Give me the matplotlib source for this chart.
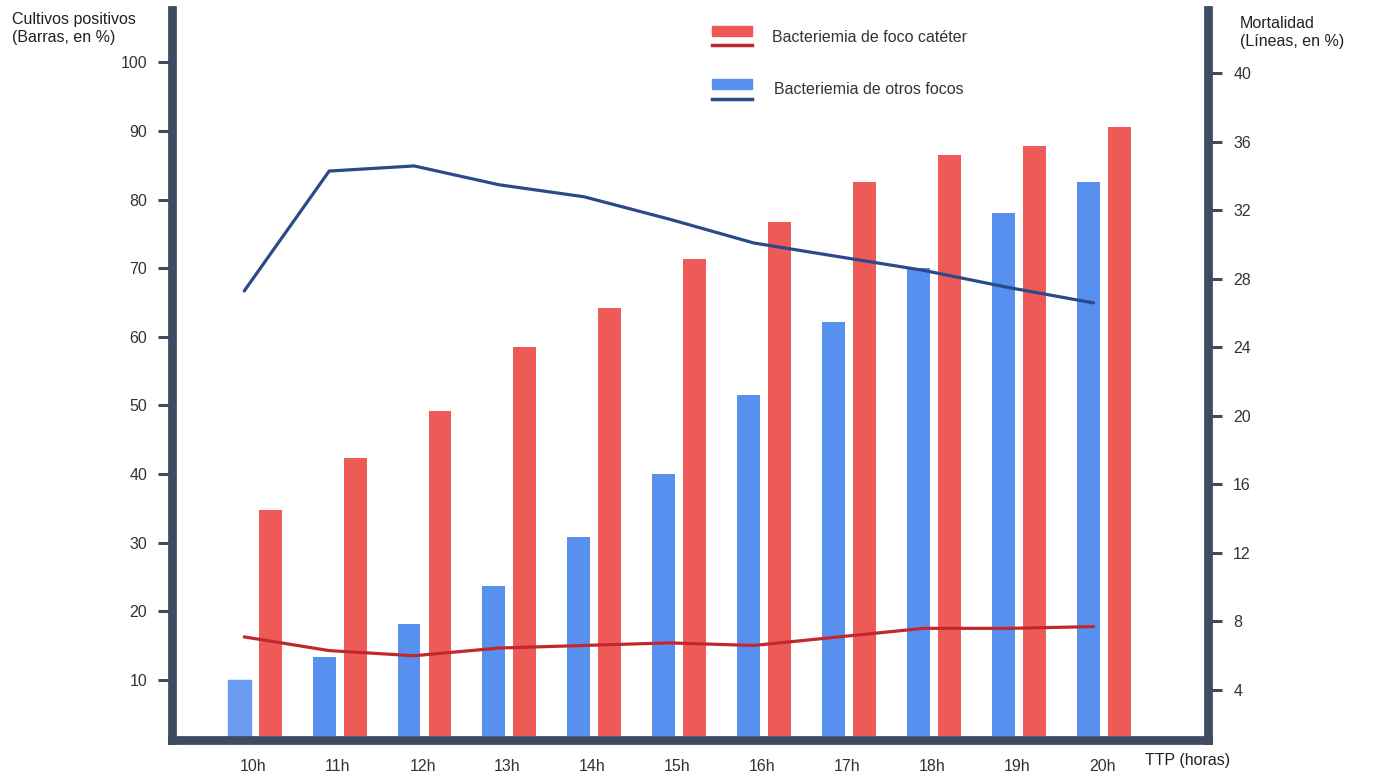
import numpy as np
from matplotlib import pyplot as plt
from matplotlib.patches import Rectangle
from matplotlib.lines import Line2D

# === Data ===
horas = ["10h", "11h", "12h", "13h", "14h", "15h", "16h", "17h", "18h", "19h", "20h"]
cultivos_cateter = [34.8, 42.4, 49.2, 58.5, 64.2, 71.3, 76.7, 82.5, 86.5, 87.8, 90.5]
cultivos_otros = [10.0, 13.4, 18.1, 23.7, 30.9, 40.0, 51.5, 62.2, 70.0, 78.0, 82.5]
mortalidad_cateter = [7.1, 6.3, 6.0, 6.45, 6.6, 6.75, 6.6, 7.1, 7.6, 7.6, 7.7]
mortalidad_otros = [27.3, 34.3, 34.6, 33.5, 32.8, 31.5, 30.1, 29.3, 28.5, 27.5, 26.6]
left_ticks = [10, 20, 30, 40, 50, 60, 70, 80, 90, 100]
right_ticks = [4, 8, 12, 16, 20, 24, 28, 32, 36, 40]

# === Style ===
red_bar = "#ee5b56"
blue_bar = "#5890f0"
red_line = "#c2272d"
blue_line = "#2c4a88"
spine_col = "#3e4b60"
txt = "#333333"
base = 1.9  # bars start a little above the bottom spine

plt.rcParams['font.family'] = ['Liberation Sans', 'DejaVu Sans']

fig = plt.figure(figsize=(13.73, 7.76), dpi=100)
ax = fig.add_axes([0.1253, 0.0464, 0.7547, 0.9406])
ax2 = ax.twinx()

x = np.arange(len(horas))
w = 0.27
bars_o = ax.bar(x - 0.16, [v - base for v in cultivos_otros], w, bottom=base,
                color=blue_bar, zorder=2)
bars_o[0].set_color("#6b9cf2")
ax.bar(x + 0.205, [v - base for v in cultivos_cateter], w, bottom=base,
       color=red_bar, zorder=2)

ax2.plot(x - 0.1, mortalidad_otros, color=blue_line, lw=2.3, solid_capstyle="round")
ax2.plot(x - 0.1, mortalidad_cateter, color=red_line, lw=2.3, solid_capstyle="round")

ax.set_xlim(-0.95, len(horas) - 1 + 1.25)
ax.set_ylim(1.27, 107.6)
ax2.set_ylim(1.08, 43.7)

ax.set_xticks(x)
ax.set_xticklabels(horas)
ax.set_yticks(left_ticks)
ax2.set_yticks(right_ticks)

for a in (ax, ax2):
    for s in a.spines.values():
        s.set_visible(False)
ax.spines["left"].set_visible(True)
ax.spines["bottom"].set_visible(True)
ax2.spines["right"].set_visible(True)
for s in (ax.spines["left"], ax.spines["bottom"], ax2.spines["right"]):
    s.set_color(spine_col)
    s.set_linewidth(6.3)
    s.set_capstyle("projecting")

ax.tick_params(axis="x", length=0, pad=14, labelsize=11.5, labelcolor=txt)
ax.tick_params(axis="y", length=10, width=2.2, color=spine_col, pad=8, labelsize=11.5, labelcolor=txt)
ax2.tick_params(axis="y", length=10, width=2.2, color=spine_col, pad=8, labelsize=11.5, labelcolor=txt)

fig.text(0.009, 0.985, "Cultivos positivos\n(Barras, en %)", ha="left", va="top",
         fontsize=11.5, color="#222222", linespacing=1.25)
fig.text(0.903, 0.98, "Mortalidad\n(Líneas, en %)", ha="left", va="top",
         fontsize=11.5, color="#222222", linespacing=1.25)
fig.text(0.834, 0.02, "TTP (horas)", ha="left", va="center", fontsize=11.5, color="#222222")

# legend
fig.add_artist(Rectangle((712 / 1373, 1 - 36 / 776), 40 / 1373, 10 / 776,
                         transform=fig.transFigure, color=red_bar))
fig.add_artist(Line2D([712 / 1373, 752 / 1373], [1 - 45 / 776] * 2,
                      transform=fig.transFigure, color=red_line, lw=2.5))
fig.add_artist(Rectangle((712 / 1373, 1 - 89 / 776), 40 / 1373, 10 / 776,
                         transform=fig.transFigure, color=blue_bar))
fig.add_artist(Line2D([712 / 1373, 752 / 1373], [1 - 99 / 776] * 2,
                      transform=fig.transFigure, color=blue_line, lw=2.5))
fig.text(772 / 1373, 1 - 38 / 776, "Bacteriemia de foco catéter", ha="left", va="center",
         fontsize=11.5, color=txt)
fig.text(774 / 1373, 1 - 90 / 776, "Bacteriemia de otros focos", ha="left", va="center",
         fontsize=11.5, color=txt)

fig.savefig("out.png", dpi=100)
